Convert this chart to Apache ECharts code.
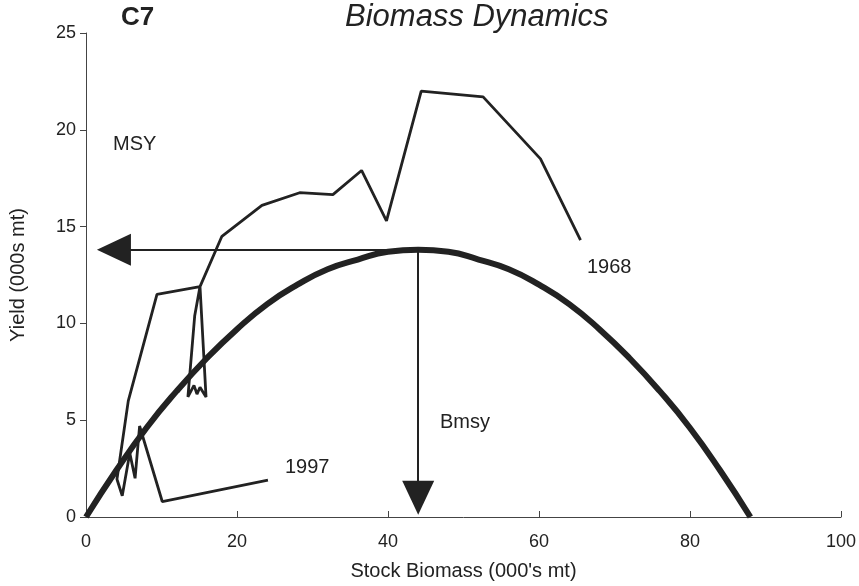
<!DOCTYPE html>
<html>
<head>
<meta charset="utf-8">
<title>Biomass Dynamics</title>
<script src="https://cdn.jsdelivr.net/npm/echarts@6/dist/echarts.min.js"></script>
<style>
  html, body { margin: 0; padding: 0; background: #fff; }
  #main { width: 859px; height: 586px; }
</style>
</head>
<body>
<div id="main"></div>
<script>
// surplus production curve (stock, yield)
const curveStock = [0, 4, 8, 12, 16, 20, 24, 28, 32, 36, 40, 44, 48, 52, 56, 60, 64, 68, 72, 76, 80, 84, 88];
const curveYield = [0, 2.4, 4.6, 6.5, 8.2, 9.7, 11.0, 12.0, 12.8, 13.3, 13.7, 13.8, 13.7, 13.3, 12.8, 12.0, 11.0, 9.7, 8.2, 6.5, 4.6, 2.4, 0];

// observed trajectory, 1968 -> 1997
const trajStock = [65.5, 60.2, 52.6, 44.4, 39.8, 36.5, 32.7, 28.3, 23.3, 18.0, 15.1,
  15.9, 15.1, 14.7, 14.3, 13.5, 14.4, 15.1, 9.4, 5.6, 4.1, 4.8, 5.8, 6.5, 7.1, 10.1, 24.1];
const trajYield = [14.3, 18.5, 21.7, 22.0, 15.3, 17.9, 16.65, 16.75, 16.1, 14.5, 11.9,
  6.2, 6.7, 6.35, 6.8, 6.2, 10.4, 11.9, 11.5, 6.0, 1.95, 1.1, 3.3, 2.0, 4.7, 0.8, 1.9];

const msy = 13.8;
const bmsy = 44;
const firstYear = '1968';
const lastYear = '1997';

const xTicks = [0, 20, 40, 60, 80, 100];
const yTicks = [0, 5, 10, 15, 20, 25];

const ink = '#222';
const font = '"Liberation Sans", Arial, sans-serif';

const zip = (xs, ys) => xs.map((x, i) => [x, ys[i]]);

const chart = echarts.init(document.getElementById('main'));

chart.setOption({
  backgroundColor: '#fff',
  animation: false,
  textStyle: { fontFamily: font, color: ink },
  grid: { left: 86, right: 17, top: 33, bottom: 65 },
  xAxis: {
    type: 'value',
    min: xTicks[0],
    max: xTicks[xTicks.length - 1],
    interval: xTicks[1] - xTicks[0],
    name: "Stock Biomass (000's mt)",
    nameLocation: 'middle',
    nameGap: 44,
    nameTextStyle: { fontSize: 20, color: ink, fontFamily: font },
    axisLine: { lineStyle: { color: '#444', width: 1 } },
    axisTick: { inside: true, length: 6, lineStyle: { color: '#444' } },
    axisLabel: { fontSize: 18, color: ink, margin: 16, fontFamily: font },
    splitLine: { show: false },
  },
  yAxis: {
    type: 'value',
    min: yTicks[0],
    max: yTicks[yTicks.length - 1],
    interval: yTicks[1] - yTicks[0],
    name: 'Yield (000s mt)',
    nameLocation: 'middle',
    nameGap: 58,
    nameTextStyle: { fontSize: 20, color: ink, fontFamily: font },
    axisLine: { show: true, lineStyle: { color: '#444', width: 1 } },
    axisTick: { show: true, length: 6, lineStyle: { color: '#444' } },
    axisLabel: { fontSize: 18, color: ink, margin: 10, fontFamily: font },
    splitLine: { show: false },
  },
  graphic: [
    { type: 'text', left: 121, top: 5, style: { text: 'C7', font: 'bold 26px ' + font, fill: ink } },
    { type: 'text', left: 345, top: 2, style: { text: 'Biomass Dynamics', font: 'italic 31px ' + font, fill: ink } },
    { type: 'text', left: 113, top: 134, style: { text: 'MSY', font: '20px ' + font, fill: ink } },
    { type: 'text', left: 440, top: 412, style: { text: 'Bmsy', font: '20px ' + font, fill: ink } },
    { type: 'text', left: 587, top: 257, style: { text: firstYear, font: '20px ' + font, fill: ink } },
    { type: 'text', left: 285, top: 457, style: { text: lastYear, font: '20px ' + font, fill: ink } },
  ],
  series: [
    {
      name: 'production',
      type: 'line',
      data: zip(curveStock, curveYield),
      smooth: true,
      symbol: 'none',
      lineStyle: { color: ink, width: 6 },
      z: 3,
    },
    {
      name: 'trajectory',
      type: 'line',
      data: zip(trajStock, trajYield),
      symbol: 'none',
      lineStyle: { color: ink, width: 2.8 },
      z: 4,
      markLine: {
        silent: true,
        symbol: ['none', 'triangle'],
        symbolSize: [32, 34],
        label: { show: false },
        lineStyle: { color: ink, width: 2, type: 'solid' },
        data: [
          [{ coord: [bmsy, msy] }, { coord: [3.7, msy] }],
          [{ coord: [bmsy, msy] }, { coord: [bmsy, 1.0] }],
        ],
      },
    },
  ],
});
</script>
</body>
</html>
